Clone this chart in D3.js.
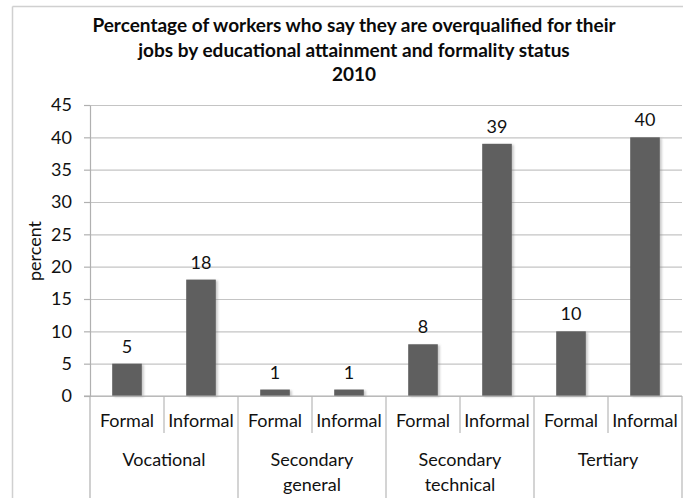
<!DOCTYPE html>
<html>
<head>
<meta charset="utf-8">
<script src="https://cdn.jsdelivr.net/npm/d3@7"></script>
<style>
  html, body { margin: 0; padding: 0; background: #fff; }
  svg { display: block; font-family: Lato, "Open Sans", sans-serif; }
</style>
</head>
<body>
<svg id="chart" width="683" height="498"></svg>
<script>
// Education groups, formality status within each group, and the share (%) per bar
const groups = ["Vocational", "Secondary general", "Secondary technical", "Tertiary"];
const groupLines = [["Vocational"], ["Secondary", "general"], ["Secondary", "technical"], ["Tertiary"]];
const statuses = ["Formal", "Informal"];
const values = [5, 18, 1, 1, 8, 39, 10, 40];
const yTicks = [0, 5, 10, 15, 20, 25, 30, 35, 40, 45];
const titleLines = [
  "Percentage of workers who say they are overqualified for their",
  "jobs by educational attainment and formality status",
  "2010"
];
const yLabel = "percent";

// One row per bar: group index, status and value
const rows = values.map((v, i) => ({
  i,
  group: groups[Math.floor(i / statuses.length)],
  status: statuses[i % statuses.length],
  value: v
}));

const svg = d3.select("#chart");
const W = 683, H = 498;
const plot = { left: 90, right: 682, top: 105, bottom: 396 };

// Outer chart frame (top and left edges visible)
svg.append("line").attr("x1", 12.5).attr("x2", W).attr("y1", 6.5).attr("y2", 6.5)
  .attr("stroke", "#d0d0d0").attr("stroke-width", 1.5);
svg.append("line").attr("x1", 12.5).attr("x2", 12.5).attr("y1", 6.5).attr("y2", H)
  .attr("stroke", "#d0d0d0").attr("stroke-width", 1.5);

// Title
svg.append("g").selectAll("text").data(titleLines).join("text")
  .attr("x", 354)
  .attr("y", (d, i) => [32, 57, 81][i])
  .attr("text-anchor", "middle")
  .attr("font-weight", "bold")
  .attr("font-size", 19)
  .attr("fill", "#0a0a0a")
  .text(d => d);

const x = d3.scaleBand()
  .domain(rows.map(r => r.i))
  .range([plot.left, plot.right])
  .paddingInner(0.6)
  .paddingOuter(0.3);

const y = d3.scaleLinear().domain([0, 45]).range([plot.bottom, plot.top]);

// Horizontal gridlines
svg.append("g")
  .attr("transform", `translate(${plot.left},0)`)
  .call(d3.axisLeft(y).tickValues(yTicks).tickSize(-(plot.right - plot.left)).tickFormat(""))
  .call(g => g.select(".domain").remove())
  .call(g => g.selectAll(".tick line").attr("stroke", "#c4c4c4").attr("stroke-width", 1.2));

// Y axis with tick labels
svg.append("g")
  .attr("transform", `translate(${plot.left},0)`)
  .call(d3.axisLeft(y).tickValues(yTicks).tickSize(6).tickPadding(12).tickSizeOuter(0))
  .call(g => g.select(".domain").attr("stroke", "#b0b0b0").attr("stroke-width", 1.2))
  .call(g => g.selectAll(".tick line").attr("stroke", "#b0b0b0").attr("stroke-width", 1.2))
  .call(g => g.selectAll(".tick text").attr("font-size", 18).attr("fill", "#111")
    .attr("font-family", "Lato, sans-serif"));

// Vertical axis line continued through the category label area
svg.append("line")
  .attr("x1", plot.left).attr("x2", plot.left)
  .attr("y1", plot.bottom).attr("y2", H)
  .attr("stroke", "#b0b0b0").attr("stroke-width", 1.2);

// Y axis title
svg.append("text")
  .attr("transform", `translate(41,251) rotate(-90)`)
  .attr("text-anchor", "middle")
  .attr("font-size", 18)
  .attr("fill", "#111")
  .text(yLabel);

// Bar shadow
const defs = svg.append("defs");
const f = defs.append("filter").attr("id", "shadow")
  .attr("x", "-20%").attr("y", "-5%").attr("width", "150%").attr("height", "115%");
f.append("feDropShadow").attr("dx", 2).attr("dy", 1).attr("stdDeviation", 0.8)
  .attr("flood-color", "#8a8a8a").attr("flood-opacity", 0.45);

// Bars
svg.append("g").selectAll("rect").data(rows).join("rect")
  .attr("x", d => x(d.i))
  .attr("width", x.bandwidth())
  .attr("y", d => y(d.value))
  .attr("height", d => y(0) - y(d.value))
  .attr("fill", "#5e5e5e")
  .attr("filter", "url(#shadow)");

// Value labels
svg.append("g").selectAll("text").data(rows).join("text")
  .attr("x", d => x(d.i) + x.bandwidth() / 2)
  .attr("y", d => y(d.value) - 11)
  .attr("text-anchor", "middle")
  .attr("font-size", 18)
  .attr("fill", "#111")
  .text(d => d3.format("d")(d.value));

// Category axis baseline
svg.append("line")
  .attr("x1", plot.left - 6).attr("x2", plot.right)
  .attr("y1", plot.bottom).attr("y2", plot.bottom)
  .attr("stroke", "#b0b0b0").attr("stroke-width", 1.2);

// Category dividers: short between statuses, full height between groups
const step = x.step();
const bounds = d3.range(1, rows.length + 1).map(k => ({ k, pos: plot.left + k * step }));
svg.append("g").selectAll("line").data(bounds).join("line")
  .attr("x1", d => d.pos).attr("x2", d => d.pos)
  .attr("y1", plot.bottom)
  .attr("y2", d => d.k % statuses.length === 0 ? H : 433)
  .attr("stroke", "#b8b8b8").attr("stroke-width", 1.2);

// Status labels
svg.append("g").selectAll("text").data(rows).join("text")
  .attr("x", d => x(d.i) + x.bandwidth() / 2)
  .attr("y", 427)
  .attr("text-anchor", "middle")
  .attr("font-size", 18)
  .attr("fill", "#111")
  .text(d => d.status);

// Group labels
const groupG = svg.append("g").selectAll("text").data(groupLines).join("text")
  .attr("text-anchor", "middle")
  .attr("font-size", 18)
  .attr("fill", "#111");
groupG.selectAll("tspan").data((d, gi) => d.map(t => ({ t, gi }))).join("tspan")
  .attr("x", d => plot.left + (d.gi + 0.5) * step * statuses.length)
  .attr("y", (d, li) => 466 + li * 25)
  .text(d => d.t);
</script>
</body>
</html>
